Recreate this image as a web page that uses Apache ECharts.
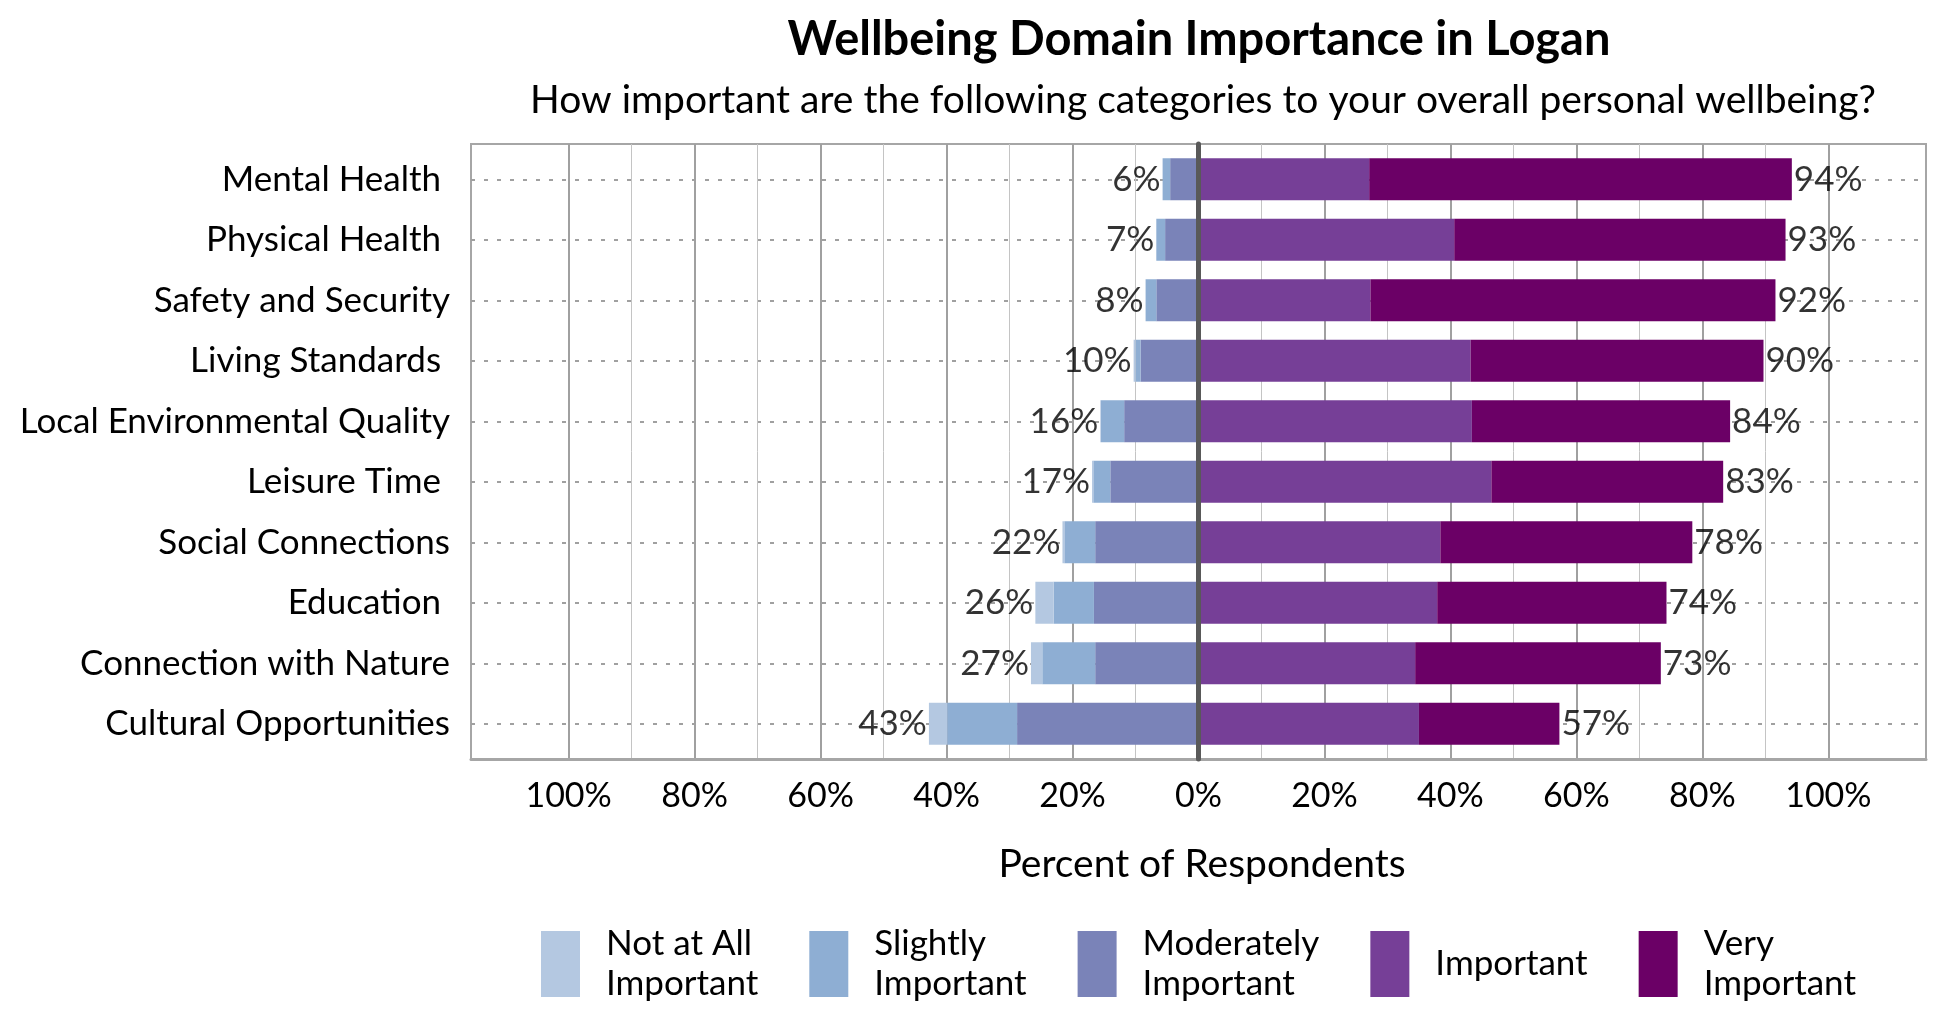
<!DOCTYPE html>
<html>
<head>
<meta charset="utf-8">
<script src="https://cdn.jsdelivr.net/npm/echarts@6/dist/echarts.min.js"></script>
<style>html,body{margin:0;padding:0;background:#fff}#c{width:1950px;height:1020px}</style>
</head>
<body>
<div id="c"></div>
<script>
// ---- data ----
const categories = ['Mental Health ', 'Physical Health ', 'Safety and Security', 'Living Standards ',
  'Local Environmental Quality', 'Leisure Time ', 'Social Connections', 'Education ',
  'Connection with Nature', 'Cultural Opportunities'];
const notAtAll   = [0, 0, 0, 0.3, 0.1, 0.2, 0.3, 2.9, 1.8, 2.9];
const slightly   = [1.2, 1.4, 1.7, 0.8, 3.7, 2.7, 4.9, 6.4, 8.4, 11.1];
const moderately = [4.5, 5.3, 6.7, 9.2, 11.8, 14.0, 16.4, 16.6, 16.4, 28.8];
const important  = [27.1, 40.6, 27.3, 43.2, 43.4, 46.5, 38.4, 37.9, 34.4, 35.0];
const veryImp    = [67.1, 52.6, 64.3, 46.5, 41.0, 36.8, 40.0, 36.4, 39.0, 22.3];
const majorTicks = [-100, -80, -60, -40, -20, 0, 20, 40, 60, 80, 100];
const minorTicks = [-90, -70, -50, -30, -10, 10, 30, 50, 70, 90];
const legendNames = ['Not at All\nImportant', 'Slightly\nImportant', 'Moderately\nImportant', 'Important', 'Very\nImportant'];
const colors = ['#b4c8e1', '#8eaed3', '#7a83b8', '#763f97', '#6b0066'];
const titleText = 'Wellbeing Domain Importance in Logan';
const subtitleText = 'How important are the following categories to your overall personal wellbeing?';
const axisNameText = 'Percent of Respondents';

// ---- derived ----
const negTotals = categories.map((_, i) => notAtAll[i] + slightly[i] + moderately[i]);
const posTotals = categories.map((_, i) => important[i] + veryImp[i]);
const catIdx = categories.map((_, i) => i);
const XMIN = -115.5, XMAX = 115.5;

const chart = echarts.init(document.getElementById('c'), null, {renderer: 'canvas'});

function barSeries(name, vals, sign, color, z) {
  return {
    name: name, type: 'bar', stack: 'total', xAxisIndex: 0, yAxisIndex: 0,
    barWidth: 42, silent: true, z: z,
    itemStyle: {color: color},
    data: vals.map(v => sign * v)
  };
}
const labelFont = {fontFamily: 'Lato', fontSize: 35, color: '#000', textBorderWidth: 0};

const option = {
  animation: false,
  backgroundColor: '#fff',
  grid: [
    {left: 471, right: 24, top: 149, bottom: 266, show: false},
    {left: 471, right: 24, top: 144, bottom: 261, show: true, borderColor: '#a6a6a6', borderWidth: 2, backgroundColor: 'transparent'}
  ],
  xAxis: [
    {gridIndex: 0, type: 'value', min: XMIN, max: XMAX, show: false},
    {gridIndex: 1, type: 'value', min: XMIN, max: XMAX, position: 'bottom',
      axisLine: {show: true, onZero: false, lineStyle: {color: '#a6a6a6', width: 3}},
      axisTick: {show: false, customValues: majorTicks},
      axisLabel: {customValues: majorTicks, formatter: v => Math.abs(v) + '%', fontFamily: 'Lato', fontSize: 34, color: '#000', margin: 20},
      splitLine: {show: true, lineStyle: {color: '#a0a0a0', width: 2}}
    },
    {gridIndex: 1, type: 'value', min: XMIN, max: XMAX, position: 'bottom',
      axisLine: {show: false}, axisLabel: {show: false},
      axisTick: {show: false, customValues: minorTicks},
      splitLine: {show: true, lineStyle: {color: '#c4c4c4', width: 1}}
    }
  ],
  yAxis: [
    {gridIndex: 0, type: 'category', data: categories, inverse: true,
      axisLine: {show: false}, axisTick: {show: false}, splitLine: {show: false},
      axisLabel: {fontFamily: 'Lato', fontSize: 35, color: '#000', margin: 21}
    },
    {gridIndex: 0, type: 'value', min: -0.5, max: 9.5, inverse: true,
      axisLine: {show: false}, axisLabel: {show: false},
      axisTick: {show: false, customValues: catIdx},
      splitLine: {show: true, lineStyle: {color: '#a0a0a0', width: 2, type: [4, 9]}}
    },
    {gridIndex: 1, type: 'value', min: 0, max: 1, z: 6,
      axisLine: {show: true, onZero: true, onZeroAxisIndex: 1, lineStyle: {color: '#595959', width: 5}},
      axisLabel: {show: false}, axisTick: {show: false}, splitLine: {show: false}
    }
  ],
  legend: {
    data: legendNames, left: 536, top: 919, itemWidth: 39, itemHeight: 66, itemGap: 51,
    icon: 'rect', selectedMode: false,
    textStyle: {fontFamily: 'Lato', fontSize: 35, lineHeight: 40, color: '#000', padding: [0, 0, 0, 21]}
  },
  graphic: [
    {type: 'text', x: 1199, y: 40, silent: true, style: {text: titleText, fontFamily: 'Lato', fontWeight: 'bold', fontSize: 47, fill: '#000', align: 'center', verticalAlign: 'middle'}},
    {type: 'text', x: 1203, y: 100, silent: true, style: {text: subtitleText, fontFamily: 'Lato', fontSize: 39, fill: '#000', align: 'center', verticalAlign: 'middle'}},
    {type: 'text', x: 1202, y: 864, silent: true, style: {text: axisNameText, fontFamily: 'Lato', fontSize: 39, fill: '#000', align: 'center', verticalAlign: 'middle'}}
  ],
  series: [
    barSeries(legendNames[2], moderately, -1, colors[2], 2),
    barSeries(legendNames[1], slightly, -1, colors[1], 2),
    barSeries(legendNames[0], notAtAll, -1, colors[0], 2),
    barSeries(legendNames[3], important, 1, colors[3], 2),
    barSeries(legendNames[4], veryImp, 1, colors[4], 2),
    {type: 'scatter', xAxisIndex: 0, yAxisIndex: 0, symbolSize: 0, silent: true, z: 7,
      data: negTotals.map((t, i) => [-t, i]),
      label: Object.assign({show: true, position: 'left', distance: 2, formatter: p => Math.round(-p.value[0]) + '%'}, labelFont)
    },
    {type: 'scatter', xAxisIndex: 0, yAxisIndex: 0, symbolSize: 0, silent: true, z: 7,
      data: posTotals.map((t, i) => [t, i]),
      label: Object.assign({show: true, position: 'right', distance: 2, formatter: p => Math.round(p.value[0]) + '%'}, labelFont)
    }
  ]
};
chart.setOption(option);
</script>
</body>
</html>
